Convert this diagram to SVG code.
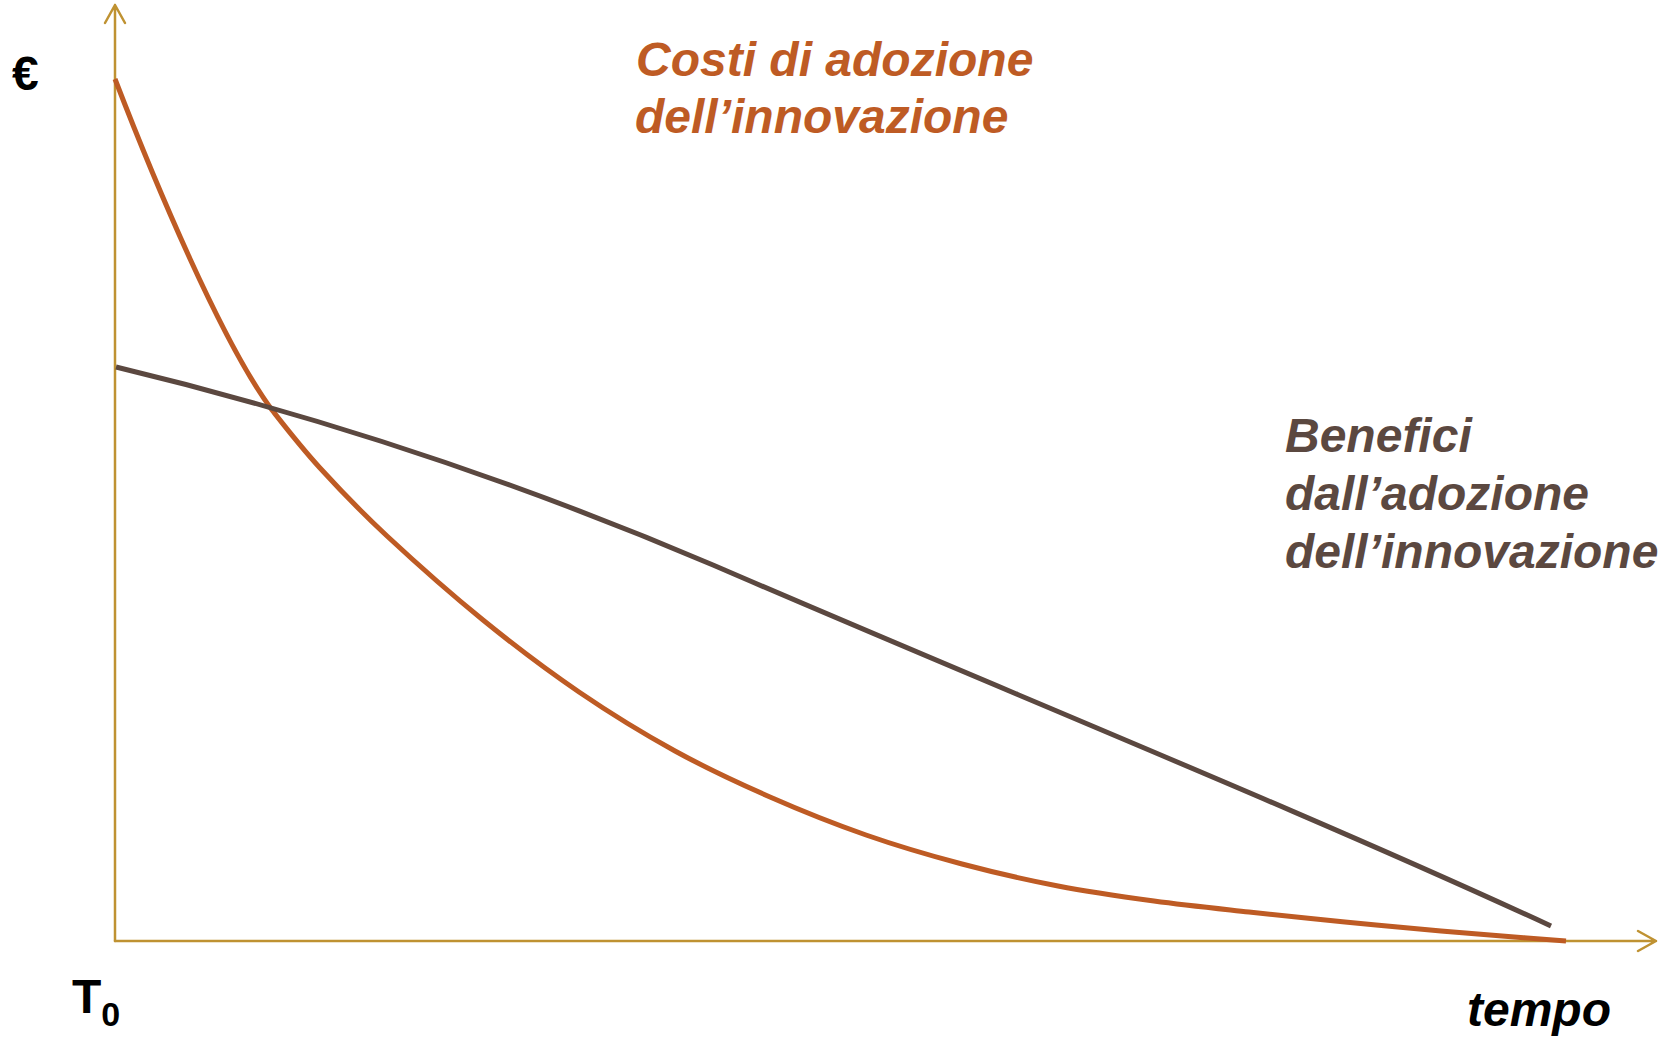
<svg xmlns="http://www.w3.org/2000/svg" width="1666" height="1037" viewBox="0 0 1666 1037">
<style>
.axis{fill:none;stroke:#BF9232;stroke-width:2.5;stroke-linecap:round;stroke-linejoin:round}
.cost{fill:none;stroke:#BE5B24;stroke-width:5}
.ben{fill:none;stroke:#5B4840;stroke-width:5}
.lbl{font-family:"Liberation Sans",Arial,sans-serif;font-weight:bold}
.it{font-style:italic}
</style>
<rect width="1666" height="1037" fill="#ffffff"/>
<g id="axes">
<path class="axis" d="M115,941 L115,5 M105,23 L115,5 L125,23"/>
<path class="axis" d="M115,941 L1656,941 M1638,931 L1656,941 L1638,951"/>
</g>
<g id="connectors">
<path id="costi-curve" class="cost" d="M115,79 C155,183 222,342.5 272,410 C285.5,427.2 300.8,447 320,468 C339.2,489 359.8,510.7 387,536 C414.2,561.3 451,594 483,620 C515,646 547,670.2 579,692 C611,713.8 643.2,733.5 675,751 C706.8,768.5 738.2,783 770,797 C801.8,811 834,823.8 866,835 C898,846.2 930,855.5 962,864 C994,872.5 1026,879.8 1058,886 C1090,892.2 1122.2,896.7 1154,901 C1185.8,905.3 1217.2,908.5 1249,912 C1280.8,915.5 1313,918.8 1345,922 C1377,925.2 1404.2,927.8 1441,931 C1477.8,934.2 1524.3,937.7 1566,941"/>
<path id="benefici-curve" class="ben" d="M116,367 Q420,440 713,565 C1000,689 1300,810 1551,926"/>
</g>
<g id="label-euro"><text class="lbl" x="12" y="90" font-size="48" fill="#000">€</text></g>
<g id="label-t0"><text class="lbl" x="72" y="1013" font-size="48" fill="#000">T<tspan font-size="34" dy="13">0</tspan></text></g>
<g id="label-tempo"><text class="lbl it" x="1467" y="1026" font-size="48" fill="#000">tempo</text></g>
<g id="label-costi">
<text class="lbl it" x="636" y="76" font-size="48" fill="#BE5B24">Costi di adozione</text>
<text class="lbl it" x="635" y="133" font-size="48" fill="#BE5B24">dell’innovazione</text>
</g>
<g id="label-benefici">
<text class="lbl it" x="1285" y="452" font-size="48" fill="#5B4840">Benefici</text>
<text class="lbl it" x="1285" y="510" font-size="48" fill="#5B4840">dall’adozione</text>
<text class="lbl it" x="1285" y="568" font-size="48" fill="#5B4840">dell’innovazione</text>
</g>
</svg>
